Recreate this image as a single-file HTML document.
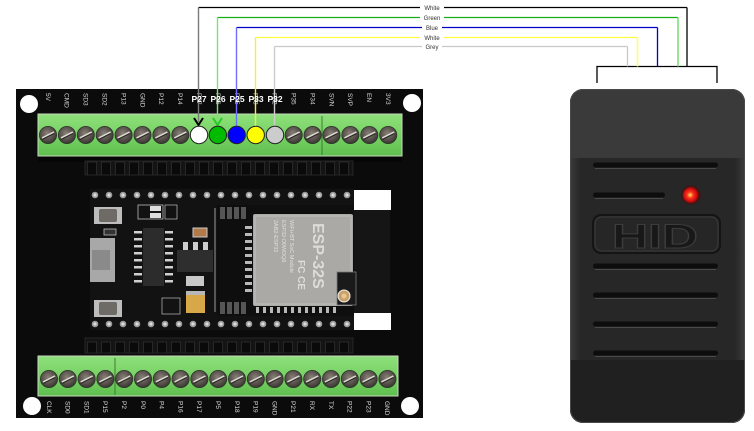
<!DOCTYPE html>
<html><head><meta charset="utf-8"><style>
html,body{margin:0;padding:0;background:#fff;}
svg{display:block;}
</style></head><body>
<svg width="754" height="431" viewBox="0 0 754 431" xmlns="http://www.w3.org/2000/svg" font-family="Liberation Sans, Arial, sans-serif">
<defs>
  <linearGradient id="gstrip" x1="0" y1="0" x2="0" y2="1">
    <stop offset="0" stop-color="#8fe07b"/>
    <stop offset="0.5" stop-color="#78d265"/>
    <stop offset="1" stop-color="#5fbf4f"/>
  </linearGradient>
  <radialGradient id="gscrew" cx="0.45" cy="0.4" r="0.6">
    <stop offset="0" stop-color="#8a8078"/>
    <stop offset="1" stop-color="#3a3632"/>
  </radialGradient>
  <g id="screw">
    <circle r="8.6" fill="url(#gscrew)" stroke="#2b3a28" stroke-width="0.8"/>
    <line x1="-6" y1="3" x2="6" y2="-3" stroke="#d8d8d0" stroke-width="1.6"/>
    <line x1="-6" y1="4.5" x2="6" y2="-1.5" stroke="#2a2622" stroke-width="1"/>
  </g>
  <pattern id="hdr" x="85" y="0" width="14" height="20" patternUnits="userSpaceOnUse">
    <rect width="14" height="20" fill="#141414"/>
    <rect x="2.5" y="2" width="9" height="16" fill="#0a0a0a" stroke="#2c2c2c" stroke-width="0.8"/>
  </pattern>
  <radialGradient id="gled" cx="0.45" cy="0.5" r="0.55">
    <stop offset="0" stop-color="#ffee55"/>
    <stop offset="0.35" stop-color="#ff3322"/>
    <stop offset="0.8" stop-color="#c00808"/>
    <stop offset="1" stop-color="#5a0a0a"/>
  </radialGradient>
  <linearGradient id="gread" x1="0" y1="0" x2="1" y2="0">
    <stop offset="0" stop-color="#3a3a3a"/>
    <stop offset="0.06" stop-color="#272727"/>
    <stop offset="0.94" stop-color="#272727"/>
    <stop offset="1" stop-color="#3a3a3a"/>
  </linearGradient>
  <clipPath id="rclip"><rect x="570" y="89" width="175" height="334" rx="13"/></clipPath>
  <g id="pin"><circle r="3.3" fill="#9a9a9a"/><circle r="1.6" fill="#dcdcdc"/></g>
</defs>

<rect width="754" height="431" fill="#fff"/>

<!-- ===== BOARD ===== -->
<rect x="16" y="89" width="407" height="329" fill="#0b0b0b"/>
<circle cx="29" cy="104" r="9" fill="#fff"/>
<circle cx="412" cy="103" r="9" fill="#fff"/>
<circle cx="32" cy="406" r="9" fill="#fff"/>
<circle cx="410" cy="406" r="9" fill="#fff"/>

<!-- top labels -->
<g font-size="6.5" fill="#d8d8d8">
  <text transform="translate(45.8,93) rotate(90)">5V</text>
  <text transform="translate(64.7,93) rotate(90)">CMD</text>
  <text transform="translate(83.6,93) rotate(90)">SD3</text>
  <text transform="translate(102.5,93) rotate(90)">SD2</text>
  <text transform="translate(121.4,93) rotate(90)">P13</text>
  <text transform="translate(140.3,93) rotate(90)">GND</text>
  <text transform="translate(159.2,93) rotate(90)">P12</text>
  <text transform="translate(178.1,93) rotate(90)">P14</text>
  <text transform="translate(197,93) rotate(90)">P27</text>
  <text transform="translate(215.9,93) rotate(90)">P26</text>
  <text transform="translate(234.8,93) rotate(90)">P25</text>
  <text transform="translate(253.7,93) rotate(90)">P33</text>
  <text transform="translate(272.6,93) rotate(90)">P32</text>
  <text transform="translate(291.5,93) rotate(90)">P35</text>
  <text transform="translate(310.4,93) rotate(90)">P34</text>
  <text transform="translate(329.3,93) rotate(90)">SVN</text>
  <text transform="translate(348.2,93) rotate(90)">SVP</text>
  <text transform="translate(367.1,93) rotate(90)">EN</text>
  <text transform="translate(386,93) rotate(90)">3V3</text>
</g>

<!-- top terminal strip -->
<rect x="38" y="152" width="364" height="10" fill="#050505" opacity="0.9"/>
<rect x="38" y="114" width="364" height="42" fill="url(#gstrip)" stroke="#c8d8c0" stroke-width="1"/>
<line x1="322" y1="116" x2="322" y2="155" stroke="#3e7a34" stroke-width="1"/>
<g>
  <use href="#screw" x="48" y="135"/>
  <use href="#screw" x="66.9" y="135"/>
  <use href="#screw" x="85.8" y="135"/>
  <use href="#screw" x="104.7" y="135"/>
  <use href="#screw" x="123.6" y="135"/>
  <use href="#screw" x="142.5" y="135"/>
  <use href="#screw" x="161.4" y="135"/>
  <use href="#screw" x="180.3" y="135"/>
  <use href="#screw" x="293.7" y="135"/>
  <use href="#screw" x="312.6" y="135"/>
  <use href="#screw" x="331.5" y="135"/>
  <use href="#screw" x="350.4" y="135"/>
  <use href="#screw" x="369.3" y="135"/>
  <use href="#screw" x="388.2" y="135"/>
</g>

<!-- headers -->
<rect x="85" y="161" width="268" height="14" fill="url(#hdr)" stroke="#262626" stroke-width="1"/>
<rect x="85" y="338" width="268" height="15" fill="url(#hdr)" stroke="#262626" stroke-width="1"/>

<!-- dev board -->
<rect x="90" y="189" width="264" height="141" fill="#121212"/>
<rect x="354" y="190" width="37" height="20" fill="#fff"/>
<rect x="354" y="313" width="37" height="17" fill="#fff"/>
<rect x="354" y="210" width="36" height="103" fill="#151515"/>
<!-- pin rows -->
<g>
  <use href="#pin" x="95" y="195"/><use href="#pin" x="109" y="195"/><use href="#pin" x="123" y="195"/><use href="#pin" x="137" y="195"/><use href="#pin" x="151" y="195"/><use href="#pin" x="165" y="195"/><use href="#pin" x="179" y="195"/><use href="#pin" x="193" y="195"/><use href="#pin" x="207" y="195"/><use href="#pin" x="221" y="195"/><use href="#pin" x="235" y="195"/><use href="#pin" x="249" y="195"/><use href="#pin" x="263" y="195"/><use href="#pin" x="277" y="195"/><use href="#pin" x="291" y="195"/><use href="#pin" x="305" y="195"/><use href="#pin" x="319" y="195"/><use href="#pin" x="333" y="195"/><use href="#pin" x="347" y="195"/>
  <use href="#pin" x="95" y="324"/><use href="#pin" x="109" y="324"/><use href="#pin" x="123" y="324"/><use href="#pin" x="137" y="324"/><use href="#pin" x="151" y="324"/><use href="#pin" x="165" y="324"/><use href="#pin" x="179" y="324"/><use href="#pin" x="193" y="324"/><use href="#pin" x="207" y="324"/><use href="#pin" x="221" y="324"/><use href="#pin" x="235" y="324"/><use href="#pin" x="249" y="324"/><use href="#pin" x="263" y="324"/><use href="#pin" x="277" y="324"/><use href="#pin" x="291" y="324"/><use href="#pin" x="305" y="324"/><use href="#pin" x="319" y="324"/><use href="#pin" x="333" y="324"/><use href="#pin" x="347" y="324"/>
</g>
<!-- buttons -->
<rect x="94" y="207" width="28" height="17" fill="#bdbdbd"/>
<rect x="99" y="209" width="18" height="13" rx="2" fill="#6e6a66"/>
<rect x="94" y="300" width="28" height="17" fill="#bdbdbd"/>
<rect x="99" y="302" width="18" height="13" rx="2" fill="#6e6a66"/>
<!-- usb -->
<rect x="90" y="238" width="25" height="44" fill="#a8a8a8"/>
<rect x="92" y="250" width="18" height="20" fill="#8a8a8a"/>
<!-- small smd -->
<rect x="104" y="229" width="12" height="6" fill="#333" stroke="#bbb" stroke-width="0.8"/>
<rect x="138" y="205" width="25" height="14" fill="none" stroke="#bbb" stroke-width="0.8"/>
<rect x="150" y="206" width="11" height="5" fill="#ddd"/>
<rect x="150" y="213" width="11" height="5" fill="#ddd"/>
<rect x="165" y="205" width="12" height="14" fill="none" stroke="#aaa" stroke-width="0.8"/>
<!-- chip -->
<rect x="143" y="228" width="21" height="58" fill="#2c2c2c"/>
<g fill="#cfcfcf">
  <rect x="134" y="231" width="8" height="2.5"/><rect x="134" y="238" width="8" height="2.5"/><rect x="134" y="245" width="8" height="2.5"/><rect x="134" y="252" width="8" height="2.5"/><rect x="134" y="259" width="8" height="2.5"/><rect x="134" y="266" width="8" height="2.5"/><rect x="134" y="273" width="8" height="2.5"/><rect x="134" y="280" width="8" height="2.5"/>
  <rect x="165" y="231" width="8" height="2.5"/><rect x="165" y="238" width="8" height="2.5"/><rect x="165" y="245" width="8" height="2.5"/><rect x="165" y="252" width="8" height="2.5"/><rect x="165" y="259" width="8" height="2.5"/><rect x="165" y="266" width="8" height="2.5"/><rect x="165" y="273" width="8" height="2.5"/><rect x="165" y="280" width="8" height="2.5"/>
</g>
<!-- regulator -->
<rect x="177" y="250" width="36" height="22" fill="#2e2e2e"/>
<rect x="183" y="242" width="5" height="8" fill="#ccc"/><rect x="193" y="242" width="5" height="8" fill="#ccc"/><rect x="203" y="242" width="5" height="8" fill="#ccc"/>
<rect x="186" y="276" width="18" height="10" fill="#c8c8c8"/>
<rect x="193" y="228" width="14" height="9" fill="#b07a4a" stroke="#ccc" stroke-width="1"/>
<!-- tantalum cap -->
<rect x="186" y="291" width="19" height="22" fill="#d8a848"/>
<rect x="186" y="291" width="19" height="4" fill="#b8b8b8"/>
<rect x="162" y="298" width="18" height="16" fill="none" stroke="#aaa" stroke-width="0.8"/>
<!-- module castellation -->
<rect x="217" y="205" width="137" height="111" fill="#0e0e0e"/>
<line x1="215" y1="208" x2="215" y2="312" stroke="#9a9a9a" stroke-width="1"/>
<g fill="#555">
  <rect x="220" y="207" width="5" height="12"/><rect x="227" y="207" width="5" height="12"/><rect x="234" y="207" width="5" height="12"/><rect x="241" y="207" width="5" height="12"/>
  <rect x="220" y="302" width="5" height="12"/><rect x="227" y="302" width="5" height="12"/><rect x="234" y="302" width="5" height="12"/><rect x="241" y="302" width="5" height="12"/>
</g>
<g fill="#b8b8b8">
  <rect x="245" y="226" width="7" height="3"/><rect x="245" y="233" width="7" height="3"/><rect x="245" y="240" width="7" height="3"/><rect x="245" y="247" width="7" height="3"/><rect x="245" y="254" width="7" height="3"/><rect x="245" y="261" width="7" height="3"/><rect x="245" y="268" width="7" height="3"/><rect x="245" y="275" width="7" height="3"/><rect x="245" y="282" width="7" height="3"/><rect x="245" y="289" width="7" height="3"/>
  <rect x="256" y="307" width="3" height="6"/><rect x="263" y="307" width="3" height="6"/><rect x="270" y="307" width="3" height="6"/><rect x="277" y="307" width="3" height="6"/><rect x="284" y="307" width="3" height="6"/><rect x="291" y="307" width="3" height="6"/><rect x="298" y="307" width="3" height="6"/><rect x="305" y="307" width="3" height="6"/><rect x="312" y="307" width="3" height="6"/><rect x="319" y="307" width="3" height="6"/><rect x="326" y="307" width="3" height="6"/><rect x="333" y="307" width="3" height="6"/>
</g>
<!-- metal shield -->
<rect x="253" y="214" width="100" height="92" rx="2" fill="#aaa9a6"/>
<rect x="255" y="216" width="96" height="88" fill="none" stroke="#c0bfbc" stroke-width="1"/>
<text transform="translate(313,223) rotate(90)" font-size="16" font-weight="bold" fill="#dcdcd8">ESP-32S</text>
<text transform="translate(290,220) rotate(90)" font-size="5.5" fill="#e0e0dc">WiFi+BT SoC Module</text>
<text transform="translate(282,220) rotate(90)" font-size="5.5" fill="#e0e0dc">ESP32-D0WDQ6</text>
<text transform="translate(274,220) rotate(90)" font-size="5.5" fill="#e0e0dc">2AB2-ESP32</text>
<text transform="translate(298,260) rotate(90)" font-size="10" font-weight="bold" fill="#dcdcd8">FC CE</text>
<!-- ufl -->
<rect x="337" y="272" width="19" height="33" fill="#1a1a1a" stroke="#7a7a7a" stroke-width="0.8"/>
<circle cx="344" cy="296" r="6" fill="#c9a26a" stroke="#eee" stroke-width="1"/>
<circle cx="344" cy="296" r="2.5" fill="#e8c890"/>

<!-- bottom terminal strip -->
<rect x="38" y="356" width="360" height="40" fill="url(#gstrip)" stroke="#c8d8c0" stroke-width="1"/>
<line x1="115" y1="358" x2="115" y2="395" stroke="#3e7a34" stroke-width="1"/>
<g>
  <use href="#screw" x="49" y="379"/>
  <use href="#screw" x="67.8" y="379"/>
  <use href="#screw" x="86.6" y="379"/>
  <use href="#screw" x="105.4" y="379"/>
  <use href="#screw" x="124.2" y="379"/>
  <use href="#screw" x="143" y="379"/>
  <use href="#screw" x="161.8" y="379"/>
  <use href="#screw" x="180.6" y="379"/>
  <use href="#screw" x="199.4" y="379"/>
  <use href="#screw" x="218.2" y="379"/>
  <use href="#screw" x="237" y="379"/>
  <use href="#screw" x="255.8" y="379"/>
  <use href="#screw" x="274.6" y="379"/>
  <use href="#screw" x="293.4" y="379"/>
  <use href="#screw" x="312.2" y="379"/>
  <use href="#screw" x="331" y="379"/>
  <use href="#screw" x="349.8" y="379"/>
  <use href="#screw" x="368.6" y="379"/>
  <use href="#screw" x="387.4" y="379"/>
</g>
<g font-size="6.5" fill="#d8d8d8">
  <text transform="translate(46.8,401) rotate(90)">CLK</text>
  <text transform="translate(65.6,401) rotate(90)">SD0</text>
  <text transform="translate(84.4,401) rotate(90)">SD1</text>
  <text transform="translate(103.2,401) rotate(90)">P15</text>
  <text transform="translate(122,401) rotate(90)">P2</text>
  <text transform="translate(140.8,401) rotate(90)">P0</text>
  <text transform="translate(159.6,401) rotate(90)">P4</text>
  <text transform="translate(178.4,401) rotate(90)">P16</text>
  <text transform="translate(197.2,401) rotate(90)">P17</text>
  <text transform="translate(216,401) rotate(90)">P5</text>
  <text transform="translate(234.8,401) rotate(90)">P18</text>
  <text transform="translate(253.6,401) rotate(90)">P19</text>
  <text transform="translate(272.4,401) rotate(90)">GND</text>
  <text transform="translate(291.2,401) rotate(90)">P21</text>
  <text transform="translate(310,401) rotate(90)">RX</text>
  <text transform="translate(328.8,401) rotate(90)">TX</text>
  <text transform="translate(347.6,401) rotate(90)">P22</text>
  <text transform="translate(366.4,401) rotate(90)">P23</text>
  <text transform="translate(385.2,401) rotate(90)">GND</text>
</g>

<!-- ===== RFID READER ===== -->
<g clip-path="url(#rclip)">
  <rect x="570" y="89" width="175" height="334" fill="url(#gread)"/>
  <rect x="570" y="89" width="175" height="69" fill="#3a3a3a"/>
  <rect x="570" y="360" width="175" height="63" fill="#202020"/>
</g>
<rect x="570.5" y="89.5" width="174" height="333" rx="13" fill="none" stroke="#4a4a4a" stroke-width="1"/>
<g>
  <rect x="593" y="162.5" width="125" height="5" rx="2.5" fill="#0d0d0d"/><line x1="595" y1="168.5" x2="716" y2="168.5" stroke="#4a4a4a"/>
  <rect x="593" y="192.5" width="72" height="5" rx="2.5" fill="#0d0d0d"/><line x1="595" y1="198.5" x2="663" y2="198.5" stroke="#4a4a4a"/>
  <rect x="593" y="263.5" width="125" height="5" rx="2.5" fill="#0d0d0d"/><line x1="595" y1="269.5" x2="716" y2="269.5" stroke="#4a4a4a"/>
  <rect x="593" y="292.5" width="125" height="5" rx="2.5" fill="#0d0d0d"/><line x1="595" y1="298.5" x2="716" y2="298.5" stroke="#4a4a4a"/>
  <rect x="593" y="321.5" width="125" height="5" rx="2.5" fill="#0d0d0d"/><line x1="595" y1="327.5" x2="716" y2="327.5" stroke="#4a4a4a"/>
  <rect x="593" y="350.5" width="125" height="5" rx="2.5" fill="#0d0d0d"/><line x1="595" y1="356.5" x2="716" y2="356.5" stroke="#4a4a4a"/>
</g>
<rect x="593" y="215" width="127" height="38" rx="8" fill="#262626" stroke="#141414" stroke-width="2"/>
<rect x="595" y="217" width="123" height="34" rx="7" fill="none" stroke="#3a3a3a" stroke-width="1"/>
<text x="612" y="248" font-size="34" font-weight="bold" fill="#181818" stroke="#3c3c3c" stroke-width="1" textLength="86" lengthAdjust="spacingAndGlyphs">HID</text>
<circle cx="691" cy="195" r="10" fill="#3a1a1a"/>
<circle cx="691" cy="195" r="8" fill="url(#gled)"/>

<!-- ===== WIRES ===== -->
<!-- bracket -->
<polyline points="597,83 597,66.5 717,66.5 717,83" fill="none" stroke="#000" stroke-width="1.3"/>
<!-- horizontals -->
<line x1="198.5" y1="7.5" x2="687" y2="7.5" stroke="#000" stroke-width="1.3"/>
<line x1="217.5" y1="17.5" x2="678" y2="17.5" stroke="#16b016" stroke-width="1.3"/>
<line x1="236.5" y1="27.5" x2="657.5" y2="27.5" stroke="#0000cc" stroke-width="1.3"/>
<line x1="255.5" y1="37.5" x2="637.5" y2="37.5" stroke="#ffff40" stroke-width="1.3"/>
<line x1="274.5" y1="46.5" x2="627.5" y2="46.5" stroke="#c8c8c8" stroke-width="1.3"/>
<!-- right verticals -->
<line x1="687" y1="7.5" x2="687" y2="66.5" stroke="#000" stroke-width="1.3"/>
<line x1="678" y1="17.5" x2="678" y2="66.5" stroke="#7ee07a" stroke-width="1.6"/>
<line x1="657.5" y1="27.5" x2="657.5" y2="66.5" stroke="#0000cc" stroke-width="1.3"/>
<line x1="637.5" y1="37.5" x2="637.5" y2="66.5" stroke="#ffff70" stroke-width="1.6"/>
<line x1="627.5" y1="46.5" x2="627.5" y2="66.5" stroke="#c8c8c8" stroke-width="1.3"/>
<!-- left verticals -->
<line x1="198.5" y1="7.5" x2="198.5" y2="122" stroke="#7a7a7a" stroke-width="1.4"/>
<line x1="217.5" y1="17.5" x2="217.5" y2="122" stroke="#7ee07a" stroke-width="1.4"/>
<line x1="236.5" y1="27.5" x2="236.5" y2="127" stroke="#6e6eff" stroke-width="1.4"/>
<line x1="255.5" y1="37.5" x2="255.5" y2="127" stroke="#f0f040" stroke-width="1.4"/>
<line x1="274.5" y1="46.5" x2="274.5" y2="127" stroke="#cccccc" stroke-width="1.4"/>
<!-- arrowheads -->
<polyline points="194,118 198.5,125 203,118" fill="none" stroke="#000" stroke-width="2"/>
<polyline points="213,118 217.5,125 222,118" fill="none" stroke="#22cc22" stroke-width="2"/>
<!-- wire labels -->
<g font-size="6" fill="#333" text-anchor="middle">
  <rect x="420" y="4" width="24" height="7" fill="#fff"/><text x="432" y="10">White</text>
  <rect x="420" y="14" width="24" height="7" fill="#fff"/><text x="432" y="20">Green</text>
  <rect x="422" y="24" width="20" height="7" fill="#fff"/><text x="432" y="30">Blue</text>
  <rect x="420" y="34" width="24" height="7" fill="#fff"/><text x="432" y="40">White</text>
  <rect x="422" y="43" width="20" height="7" fill="#fff"/><text x="432" y="49">Grey</text>
</g>
<!-- colored terminals -->
<circle cx="199" cy="135" r="8.7" fill="#ffffff" stroke="#222" stroke-width="1"/>
<circle cx="217.8" cy="135" r="8.7" fill="#00bb00" stroke="#222" stroke-width="1"/>
<circle cx="236.7" cy="135" r="8.7" fill="#0000ff" stroke="#222" stroke-width="1"/>
<circle cx="255.7" cy="135" r="8.7" fill="#ffff00" stroke="#222" stroke-width="1"/>
<circle cx="275" cy="135" r="8.7" fill="#cccccc" stroke="#222" stroke-width="1"/>
<!-- pin labels -->
<g font-size="8.5" font-weight="bold" fill="#fff" text-anchor="middle">
  <text x="199" y="102">P27</text>
  <text x="218" y="102">P26</text>
  <text x="237" y="102">P25</text>
  <text x="256" y="102">P33</text>
  <text x="275" y="102">P32</text>
</g>
</svg>
</body></html>
